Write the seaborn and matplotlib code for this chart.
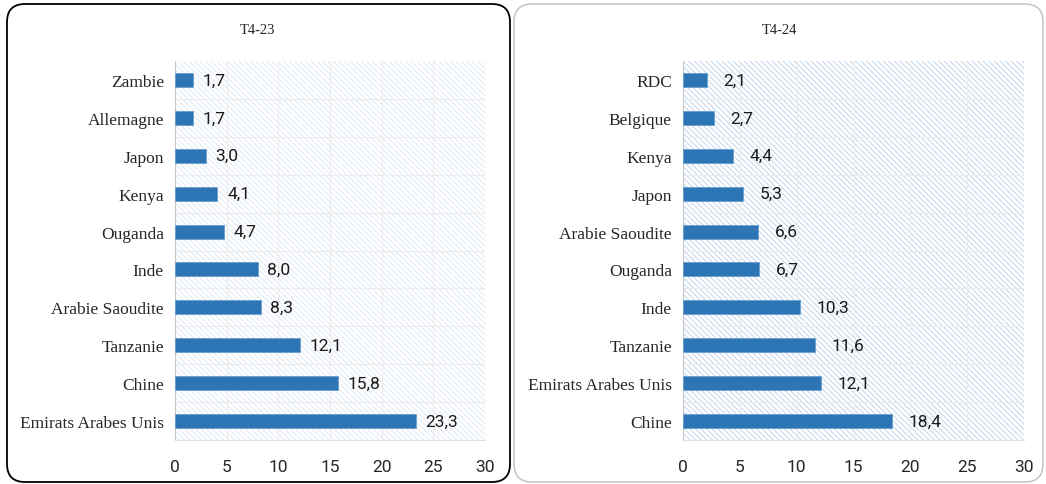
import matplotlib
matplotlib.use("Agg")
import matplotlib.pyplot as plt
import matplotlib.transforms as mtransforms
from matplotlib.patches import FancyBboxPatch, Rectangle
import seaborn as sns

# données
pays_23 = ["Zambie", "Allemagne", "Japon", "Kenya", "Ouganda", "Inde",
           "Arabie Saoudite", "Tanzanie", "Chine", "Emirats Arabes Unis"]
valeurs_23 = [1.7, 1.7, 3.0, 4.1, 4.7, 8.0, 8.3, 12.1, 15.8, 23.3]

pays_24 = ["RDC", "Belgique", "Kenya", "Japon", "Arabie Saoudite", "Ouganda",
           "Inde", "Tanzanie", "Emirats Arabes Unis", "Chine"]
valeurs_24 = [2.1, 2.7, 4.4, 5.3, 6.6, 6.7, 10.3, 11.6, 12.1, 18.4]

titres = ["T4-23", "T4-24"]
x_ticks = [0, 5, 10, 15, 20, 25, 30]

sns.set_style("white")
plt.rcParams['font.family'] = ['Liberation Serif', 'DejaVu Serif']
plt.rcParams['hatch.linewidth'] = 0.7
num_font = ['Liberation Sans Narrow', 'Roboto', 'DejaVu Sans']

W, H = 1046, 485
fig = plt.figure(figsize=(W / 100, H / 100), dpi=100)

# cadres arrondis (en pixels)
ident = mtransforms.IdentityTransform()
cadres = [(7, 5, 510, 483, "black", 1.3), (514, 5, 1043, 483, "#bfbfbf", 1.0)]
for x0, y0, x1, y1, col, lw in cadres:
    fig.patches.append(FancyBboxPatch((x0, H - y1), x1 - x0, y1 - y0,
                                      boxstyle="round,pad=0,rounding_size=18",
                                      transform=ident, fill=False,
                                      edgecolor=col, linewidth=lw))

panneaux = [
    (pays_23, valeurs_23, [175, 485], 7, "#e0eaf4", 258),
    (pays_24, valeurs_24, [683, 1024], 12, "#c0d5eb", 779),
]

for i, (pays, vals, (xa, xb), decal, hatch_col, xt) in enumerate(panneaux):
    top, bottom = 62, 441
    ax = fig.add_axes([xa / W, (H - bottom) / H, (xb - xa) / W, (bottom - top) / H])
    ax.add_patch(Rectangle((0, 0), 1, 1, transform=ax.transAxes, facecolor="white",
                           edgecolor=hatch_col, hatch="\\" * 6, linewidth=0, zorder=0))
    sns.barplot(x=vals, y=pays, orient="h", color="#2e75b6", width=0.37,
                edgecolor="#6a9fd0", linewidth=0.6, ax=ax, zorder=3, saturation=1)
    ax.set_xlim(0, 30)
    ax.set_ylim(9.5, -0.5)
    ax.set_xticks(x_ticks)
    ax.set_xticklabels([str(t) for t in x_ticks], family=num_font, fontsize=12.5)
    for lab in ax.get_yticklabels():
        lab.set_fontsize(12.5)
    ax.tick_params(axis="x", length=0, pad=14)
    ax.tick_params(axis="y", length=0, pad=8)
    for x in x_ticks[1:]:
        ax.axvline(x, color="#ececec", lw=0.8, zorder=1)
    for k in range(1, 10):
        ax.axhline(k - 0.5, color="#ececec", lw=0.8, zorder=1)
    for s in ["top", "right"]:
        ax.spines[s].set_visible(False)
    ax.spines["left"].set_color("#c8c8c8")
    ax.spines["bottom"].set_color("#e0e0e0")
    ax.set_xlabel("")
    ax.set_ylabel("")
    for j, v in enumerate(vals):
        ax.annotate(f"{v:.1f}".replace(".", ","), (v, j), xytext=(decal, 0),
                    textcoords="offset points", va="center", ha="left",
                    family=num_font, fontsize=12.5, color="#1a1a1a")
    fig.text(xt / W, 1 - 30 / H, titres[i], ha="center", va="center", fontsize=10.5)

fig.savefig("out.png", dpi=100)
